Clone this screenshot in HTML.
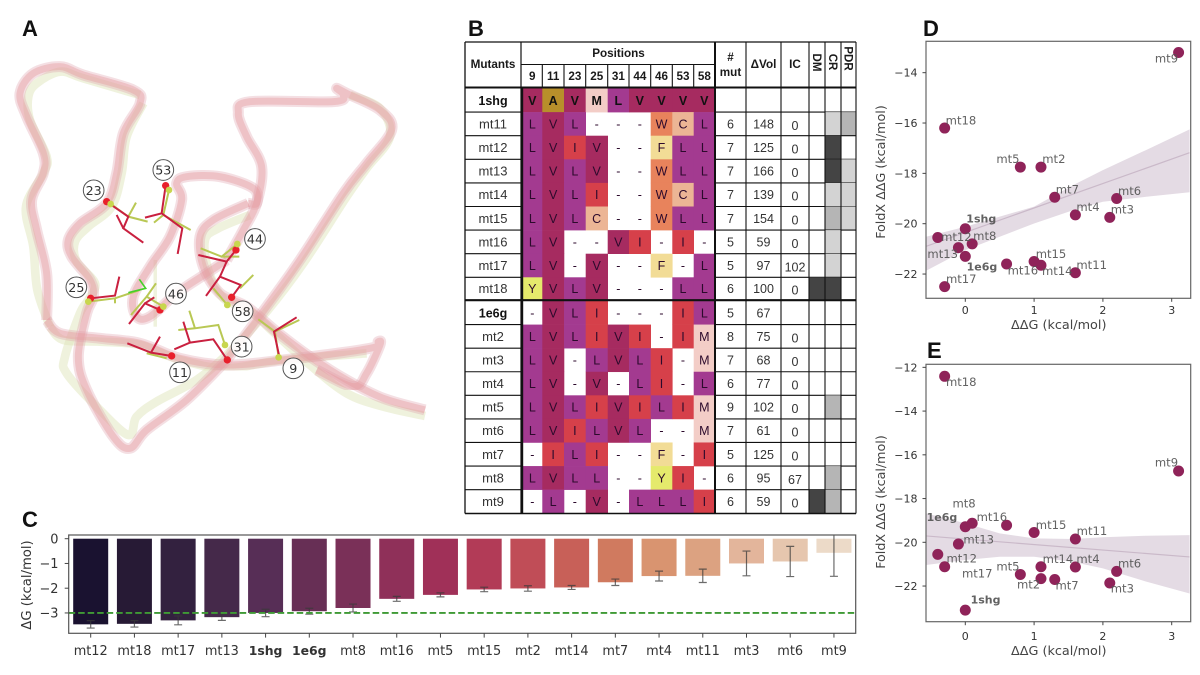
<!DOCTYPE html>
<html lang="en">
<head>
<meta charset="utf-8">
<title>Mutant stability figure</title>
<style>
html,body{margin:0;padding:0;background:#fff;width:1200px;height:675px;overflow:hidden}
svg{display:block;filter:blur(0.35px)}
.dj{font-family:"DejaVu Sans",sans-serif}
.lb{font-family:"Liberation Sans",sans-serif}
</style>
</head>
<body>
<svg id="fig" xmlns="http://www.w3.org/2000/svg" width="1200" height="675" viewBox="0 0 1200 675">
  <defs>
    <filter id="soft" x="-5%" y="-5%" width="110%" height="110%"><feGaussianBlur stdDeviation="0.8"/></filter>
    <clipPath id="clip-c"><rect x="68.7" y="535" width="787" height="98.3"/></clipPath>
    <clipPath id="clip-d"><rect x="926" y="41.3" width="264.7" height="257"/></clipPath>
    <clipPath id="clip-e"><rect x="926" y="364.3" width="264.7" height="257.4"/></clipPath>
  </defs>
  <g class="lb" font-weight="700" font-size="22" fill="#111">
    <text x="22" y="36">A</text>
    <text x="468" y="36">B</text>
    <text x="22" y="527">C</text>
    <text x="923" y="36">D</text>
    <text x="927" y="358">E</text>
  </g>
  <g id="protein"></g>
  <g id="table"></g>
  <g id="bars"></g>
  <g id="scatter-d"></g>
  <g id="scatter-e"></g>
</svg>
<script>
/* ---------- Panel B data ---------- */
const positions = ['9','11','23','25','31','44','46','53','58'];
const rowNames = ['1shg','mt11','mt12','mt13','mt14','mt15','mt16','mt17','mt18','1e6g','mt2','mt3','mt4','mt5','mt6','mt7','mt8','mt9'];
const rowResidues = ['VAVMLVVVV','LVL---WCL','LVIV--FLL','LVLV--WLL','LVLI--WCL','LVLC--WLL','LV--VI-I-','LV-V--F-L','YVLV---LL','-VLI---IL','LVLIVI-IM','LV-LVLI-M','LV-V-LI-L','LVLIVILIM','LVILVL--M','-ILI--F-I','LVLL--YI-','-L-V-LLLI'];
const rowMutCount = ['','6','7','7','7','7','5','5','6','5','8','7','6','9','7','5','6','6'];
const rowDeltaVol = ['','148','125','166','139','154','59','97','100','67','75','68','77','102','61','125','95','59'];
const rowIC = ['','0','0','0','0','0','0','102','0','','0','0','0','0','0','0','67','0'];
const rowDM = [0,0,0,0,0,0,0,0,3,0,0,0,0,0,0,0,0,3];
const rowCR = [0,1,3,3,1,2,1,1,3,0,0,0,0,2,0,0,2,2];
const rowPDR = [0,2,0,1,1,1,0,0,0,0,0,0,0,0,0,0,0,0];

/* ---------- Panel C data ---------- */
const barNames = ['mt12','mt18','mt17','mt13','1shg','1e6g','mt8','mt16','mt5','mt15','mt2','mt14','mt7','mt4','mt11','mt3','mt6','mt9'];
const barValues = [-3.46,-3.44,-3.3,-3.17,-3.0,-2.93,-2.8,-2.43,-2.27,-2.05,-2.01,-1.97,-1.76,-1.51,-1.5,-1.0,-0.92,-0.57];
const barErrors = [0.15,0.13,0.18,0.13,0.15,0.12,0.16,0.1,0.08,0.09,0.11,0.08,0.13,0.2,0.27,0.5,0.61,0.95];
const barTicks = [0,-1,-2,-3];
const referenceLine = -3;

/* ---------- Panels D and E data ---------- */
const scatterNames = ['1shg','1e6g','mt2','mt3','mt4','mt5','mt6','mt7','mt8','mt9','mt11','mt12','mt13','mt14','mt15','mt16','mt17','mt18'];
const deltaDeltaG = [0,0,1.1,2.1,1.6,0.8,2.2,1.3,0.1,3.1,1.6,-0.4,-0.1,1.1,1.0,0.6,-0.3,-0.3];
const foldxD = [-20.2,-21.3,-17.75,-19.75,-19.65,-17.75,-19,-18.95,-20.8,-13.2,-21.95,-20.55,-20.95,-21.65,-21.5,-21.6,-22.5,-16.2];
const foldxE = [-23.1,-19.29,-21.66,-21.86,-21.13,-21.47,-21.33,-21.7,-19.13,-16.74,-19.85,-20.55,-20.08,-21.12,-19.55,-19.22,-21.12,-12.41];
const xTicks = [0,1,2,3];
const yTicksD = [-14,-16,-18,-20,-22];
const yTicksE = [-12,-14,-16,-18,-20,-22];
const fitX = [-0.57,0,0.5,1,1.57,2,2.63,3.26];
const fitUpperD = [-20.52,-20.12,-19.72,-19.32,-18.46,-17.87,-17.07,-16.25];
const fitLowerD = [-21.87,-21.05,-20.52,-19.99,-19.46,-19.13,-18.93,-18.75];
const fitLineD = [-20.9,-17.18];
const fitUpperE = [-18.68,-19.13,-19.59,-19.82,-19.85,-19.77,-19.7,-19.67];
const fitLowerE = [-21.04,-20.81,-20.66,-20.66,-20.9,-21.19,-21.8,-22.34];
const fitLineE = [-19.71,-20.67];

/* label nudges around their points (layout only) */
const labelNudgeD = {'mt9':[-23.7,10],'mt18':[1,-3.7],'mt5':[-24,-4],'mt2':[1.3,-4],'mt7':[1,-4],'mt6':[1.3,-3.7],'mt4':[1,-3.7],'mt3':[1,-4],'1shg':[1,-6.3],'mt12':[3.3,3.3],'mt8':[1,-4],'mt13':[-31,10.3],'1e6g':[1.3,14],'mt16':[1,10.3],'mt15':[1.6,-3.7],'mt14':[1,10],'mt11':[1,-4],'mt17':[1.3,-3.7]};
const labelNudgeE = {'mt18':[1.3,9.7],'mt9':[-23.7,-4.3],'mt8':[-19.7,-15.7],'1e6g':[-38.7,-6],'mt16':[-30,-4.3],'mt15':[1.7,-3.7],'mt11':[1.3,-4],'mt13':[5,-0.3],'mt12':[8.7,8.3],'mt17':[17.3,10.7],'mt5':[-24,-4],'mt14':[1.7,-3.7],'mt4':[1,-4],'mt6':[1.3,-4],'mt3':[1,9.7],'mt2':[-24,9.7],'mt7':[0.7,10],'1shg':[5.3,-6.7]};

const residueColor = {V:'#a62b60',A:'#b88f2b',M:'#f3cdc7',L:'#a33a90',W:'#e8835c',C:'#ecb595',I:'#d6404a',F:'#f2dc96',Y:'#e5ea6c'};
const shade = ['none','#d3d3d3','#b5b5b5','#444444'];
const barPalette = ['#1a1230','#271a35','#33213f','#45294a','#572e56','#672f55','#7a3058','#8f3059','#a03058','#b23b57','#c04d57','#c86058','#d07a5f','#d99470','#dca281','#e3b59b','#e6c6ae','#ecdac8'];

const NS = 'http://www.w3.org/2000/svg';
function make(tag, attrs, parent, text){
  const el = document.createElementNS(NS, tag);
  for (const k in attrs) el.setAttribute(k, attrs[k]);
  if (text !== undefined) el.textContent = text;
  parent.appendChild(el);
  return el;
}
const minus = v => String(v).replace('-', '\u2212');

/* ---------- Panel A: protein ---------- */
(function(){
  const root = document.getElementById('protein');
  const g = make('g', {transform:'translate(0,40) scale(0.3333)'}, root);
  const pinkRibbons = [
    [[1275,1110],[1150,1075],[1040,1020],[930,950],[830,875],[740,800],[660,760],[610,680],[600,590],[640,540],[745,490]],
    [[745,490],[770,490],[760,445],[660,410],[560,410],[530,430],[545,480],[510,590],[450,680],[400,770],[410,830],[450,830],[530,760],[620,700],[680,660]],
    [[680,660],[730,570],[770,490],[785,380],[740,290],[715,220],[750,185],[1000,185],[1030,165],[1010,145],[1040,160],[1140,210],[1175,270],[1100,370],[1030,460],[900,660],[800,800],[680,960]],
    [[680,960],[560,1080],[440,1170],[390,1225],[340,1190],[260,1050],[235,950],[260,820],[280,770],[270,720],[215,650],[205,600],[240,550],[320,490],[350,400],[370,280],[420,190],[400,150],[250,105],[180,80],[100,100],[60,160],[80,230],[130,340],[130,400],[95,480],[110,570],[140,700],[140,840]],
    [[140,840],[180,880],[300,895],[420,910],[540,955],[680,975],[850,960],[1110,925],[1135,905],[1140,915],[1100,1000],[1060,1040],[950,990]]
  ];
  const greenRibbons = [
    [[1275,1128],[1150,1100],[1040,1060],[930,975],[830,885],[745,810],[670,775],[625,690],[615,600],[655,565],[750,525]],
    [[470,660],[465,770],[462,860]],
    [[1050,165],[1140,205],[1170,290],[1100,385],[1040,470],[910,670],[800,815],[690,935],[590,1020],[470,1085],[410,1130],[385,1185],[290,1100],[200,1000],[195,950],[240,820],[265,780],[285,730],[230,665],[225,605],[265,560],[335,500],[365,400],[380,290],[430,190]],
    [[420,165],[250,115],[180,95],[110,130],[85,170],[90,240],[140,350],[130,400],[78,500],[100,620],[112,750],[150,860]],
    [[150,860],[190,900],[300,905],[420,915],[540,960],[680,985],[850,960],[1100,940]]
  ];
  function smooth(p){
    let d = 'M' + p[0][0] + ' ' + p[0][1];
    for (let i = 0; i < p.length - 1; i++){
      const a = p[Math.max(0,i-1)], b = p[i], c = p[i+1], e = p[Math.min(p.length-1,i+2)];
      d += ' C' + (b[0]+(c[0]-a[0])/6) + ' ' + (b[1]+(c[1]-a[1])/6) + ' ' + (c[0]-(e[0]-b[0])/6) + ' ' + (c[1]-(e[1]-b[1])/6) + ' ' + c[0] + ' ' + c[1];
    }
    return d;
  }
  greenRibbons.forEach(p => {
    const el = make('path', {d:smooth(p), fill:'none', stroke:'#dfe5bb', 'stroke-opacity':0.5, 'stroke-width':26, 'stroke-linecap':'butt', filter:'url(#soft)'}, g);
    
    
  });
  pinkRibbons.forEach(p => {
    const d = smooth(p);
    const outer = make('path', {d:d, fill:'none', stroke:'#dc9aa8', 'stroke-opacity':0.32, 'stroke-width':33, 'stroke-linecap':'butt', filter:'url(#soft)'}, g);
    
    
    const inner = make('path', {d:d, fill:'none', stroke:'#e69aa0', 'stroke-opacity':0.42, 'stroke-width':21, 'stroke-linecap':'butt', filter:'url(#soft)'}, g);
    
    
  });
  const greenSticks = [
    [[332,492],[385,530],[443,545]],[[385,530],[408,488]],
    [[507,450],[490,525],[462,548]],[[490,525],[572,570]],
    [[712,612],[665,650],[602,625]],[[665,650],[718,650]],
    [[265,785],[345,775],[420,750]],[[345,775],[345,790]],
    [[490,800],[440,770],[393,825]],[[440,770],[468,730]],
    [[682,795],[640,745]],[[720,745],[760,705]],
    [[675,915],[655,855],[585,865],[535,870]],[[585,865],[568,812]],
    [[500,955],[440,940]],
    [[836,952],[825,875],[898,840]],[[825,875],[775,838]]
  ];
  const redSticks = [
    [[320,485],[385,530],[370,565],[430,608]],[[370,565],[350,525]],
    [[497,437],[485,520],[435,533]],[[485,520],[547,565],[533,642]],
    [[708,630],[680,665],[595,645]],[[680,665],[660,710],[618,768]],[[660,710],[722,735],[695,772]],
    [[272,775],[345,767],[358,710]],
    [[480,810],[435,790],[387,852]],[[435,790],[463,772]],
    [[682,960],[640,898],[570,908],[523,928]],[[570,908],[550,845]],
    [[515,948],[453,938],[382,910]],[[453,938],[480,890]],
    [[838,950],[822,875],[890,832]]
  ];
  const limeSticks = [[[385,758],[437,745],[418,718]]];
  greenSticks.forEach(p => {
    const el = make('polyline', {points:p.join(' '), fill:'none', stroke:'#b9c854', 'stroke-width':6}, g);
    
    
  });
  limeSticks.forEach(p => {
    const el = make('polyline', {points:p.join(' '), fill:'none', stroke:'#45cf2a', 'stroke-width':5}, g);
    
    
  });
  redSticks.forEach(p => {
    const el = make('polyline', {points:p.join(' '), fill:'none', stroke:'#c9203f', 'stroke-width':6}, g);
    
    
  });
  const redBalls = [[320,485],[497,437],[708,630],[272,775],[480,810],[682,960],[515,948],[695,772]];
  const greenBalls = [[332,492],[507,450],[712,612],[265,785],[490,800],[675,915],[836,952],[682,795]];
  redBalls.forEach(p => {
    const el = make('circle', {cx:p[0], cy:p[1], r:11, fill:'#e8202c'}, g);
    
    
  });
  greenBalls.forEach(p => {
    const el = make('circle', {cx:p[0], cy:p[1], r:10, fill:'#c8d64e'}, g);
    
    
  });
  const tags = [['23',281,451],['53',490,390],['44',765,597],['25',229,742],['46',528,761],['58',728,814],['31',725,920],['11',540,997],['9',880,985]];
  tags.forEach(t => {
    const c = make('circle', {cx:t[1], cy:t[2], r:31, fill:'#fff', 'fill-opacity':0.9, stroke:'#555', 'stroke-width':3}, g);
    
    
    const s = make('text', {x:t[1], y:t[2]+14, 'text-anchor':'middle', class:'dj', 'font-size':38, fill:'#333'}, g, t[0]);
    
    
  });
})();

/* ---------- Panel B: table ---------- */
(function(){
  const root = document.getElementById('table');
  const colX = [522.3,542.3,564,585.7,607.7,629,650.7,672.3,693.7,715];
  const rightX = [715,746,781,809,825,841,856];
  const rowH = 23.6;
  const rowTop = i => i < 9 ? 88.5 + i*rowH : 301 + (i-9)*23.58;
  const rowHeight = i => i === 8 ? 22 : (i < 9 ? rowH : 23.58);
  const line = (x1,y1,x2,y2,w,name) => {
    const el = make('line', {x1:x1,y1:y1,x2:x2,y2:y2,stroke:'#111','stroke-width':w}, root);
    
    
  };
  rowNames.forEach((name,i) => {
    const y = rowTop(i), h = rowHeight(i), bold = (name==='1shg'||name==='1e6g');
    [...rowResidues[i]].forEach((ch,j) => {
      if (ch !== '-'){
        const cell = make('rect', {x:colX[j], y:y, width:colX[j+1]-colX[j]+0.3, height:h+0.3, fill:residueColor[ch]}, root);
        
        
      }
      const t = make('text', {x:(colX[j]+colX[j+1])/2, y:y+h/2+4.5, 'text-anchor':'middle', class:'lb', 'font-size':12.5, 'font-weight':i===0?700:400, fill:i===0?'#111':'#2c0a2c'}, root, ch);
      
      
    });
    const gray = [rowDM[i],rowCR[i],rowPDR[i]];
    gray.forEach((g,k) => {
      if (g){
        const r = make('rect', {x:rightX[4+k-1], y:y, width:rightX[4+k]-rightX[4+k-1], height:h, fill:shade[g]}, root);
        
        
      }
    });
    const n = make('text', {x:493, y:y+h/2+4.5, 'text-anchor':'middle', class:'lb', 'font-size':bold?12.5:13, 'font-weight':bold?700:400, fill:bold?'#111':'#333'}, root, name);
    
    
    const a = make('text', {x:730.5, y:y+h/2+4.5, 'text-anchor':'middle', class:'lb', 'font-size':12.5, fill:'#333'}, root, rowMutCount[i]);
    
    
    const b = make('text', {x:763.5, y:y+h/2+4.5, 'text-anchor':'middle', class:'lb', 'font-size':12.5, fill:'#333'}, root, rowDeltaVol[i]);
    
    
    const c = make('text', {x:795, y:y+h/2+6, 'text-anchor':'middle', class:'lb', 'font-size':12.5, fill:'#333'}, root, rowIC[i]);
    
    
    const yb = y + h;
    if (i !== 8 && i !== 17){
      line(465,yb,521,yb,1.1,'row-rule');
      line(715,yb,856,yb,1.1,'row-rule');
    }
  });
  /* header */
  const head = (x,y,s,name,size) => {
    const t = make('text', {x:x,y:y,'text-anchor':'middle',class:'lb','font-size':size||11.7,'font-weight':700,fill:'#1a1a1a'}, root, s);
    
    
  };
  head(493,68,'Mutants','header-mutants');
  head(618.5,57,'Positions','header-positions');
  head(730.5,61,'#','header-mut-count-hash');
  head(730.5,76,'mut','header-mut-count');
  head(763.5,68,'\u0394Vol','header-delta-vol');
  head(795,68,'IC','header-ic');
  positions.forEach((p,j) => head((colX[j]+colX[j+1])/2,80,p,'header-position-' + p));
  [['DM',817,62.5],['CR',833,62],['PDR',848.5,58.5]].forEach(d => {
    const t = make('text', {x:d[1]-4,y:d[2],transform:'rotate(90 '+(d[1]-4)+' '+d[2]+')','text-anchor':'middle',class:'lb','font-size':11.5,'font-weight':700,fill:'#1a1a1a'}, root, d[0]);
    
    
  });
  /* rules */
  line(465,42,856,42,1.3,'table-top-rule');
  line(521,64.5,715,64.5,1.1,'positions-subheader-rule');
  line(465,87.5,856,87.5,2,'header-bottom-rule');
  line(465,300.2,856,300.2,2.2,'group-divider-rule');
  line(465,513.5,856,513.5,1.4,'table-bottom-rule');
  line(465,42,465,513.5,1.3,'table-left-rule');
  line(521,42,521,513.5,1.2,'mutants-column-rule');
  line(522.3,88,522.3,513.5,1.8,'positions-block-left-rule');
  line(715,42,715,513.5,2,'positions-block-right-rule');
  colX.slice(1,-1).forEach(x => line(x,64.5,x,87,1.1,'position-column-rule'));
  rightX.slice(1).forEach(x => line(x,42,x,513.5,1.1,'score-column-rule'));
})();

/* ---------- Panel C: bars ---------- */
(function(){
  const root = document.getElementById('bars');
  const bx = i => 90.7 + 43.72*i;
  const by = v => 538.7 - v*24.75;
  const marks = make('g', {'clip-path':'url(#clip-c)'}, root);
  barNames.forEach((name,i) => {
    const bar = make('rect', {x:bx(i)-17.5, y:by(0), width:35, height:by(barValues[i])-by(0), fill:barPalette[i]}, marks);
    
    
  });
  barNames.forEach((name,i) => {
    const top = by(barValues[i]+barErrors[i]), bot = by(barValues[i]-barErrors[i]);
    const e = make('path', {d:'M'+bx(i)+' '+top+'V'+bot+'M'+(bx(i)-4)+' '+top+'H'+(bx(i)+4)+'M'+(bx(i)-4)+' '+bot+'H'+(bx(i)+4), fill:'none', stroke:'#3a3a3a', 'stroke-opacity':0.75, 'stroke-width':1.2}, marks);
    
    
  });
  const ref = make('line', {x1:68.7, x2:855.7, y1:by(referenceLine), y2:by(referenceLine), stroke:'#3f9a35', 'stroke-width':1.8, 'stroke-dasharray':'6.5 3'}, root);
  
  
  const frame = make('rect', {x:68.7, y:535, width:787, height:98.3, fill:'none', stroke:'#555', 'stroke-width':1.2}, root);
  
  
  barTicks.forEach(v => {
    const t = make('line', {x1:64.7, x2:68.7, y1:by(v), y2:by(v), stroke:'#444', 'stroke-width':1}, root);
    
    
    const s = make('text', {x:58.5, y:by(v)+4.6, 'text-anchor':'end', class:'dj', 'font-size':12.9, fill:'#333'}, root, minus(v));
    
    
  });
  barNames.forEach((name,i) => {
    const t = make('line', {x1:bx(i), x2:bx(i), y1:633.3, y2:637.6, stroke:'#444', 'stroke-width':1}, root);
    
    
    const bold = (name==='1shg'||name==='1e6g');
    const s = make('text', {x:bx(i), y:655, 'text-anchor':'middle', class:'dj', 'font-size':bold?12.4:12.9, 'font-weight':bold?700:400, fill:'#333'}, root, name);
    
    
  });
  const yl = make('text', {x:31, y:585, transform:'rotate(-90 31 585)', 'text-anchor':'middle', class:'dj', 'font-size':13.2, fill:'#333'}, root, '\u0394G (kcal/mol)');
  
  
})();

/* ---------- Panels D / E: scatter ---------- */
function drawScatter(root, clip, frameTop, frameH, yZero20, yPerUnit, yValues, yTicks, upper, lower, fitLine, nudge, yLabelCenter, xTickBase, xTitleBase){
  const sx = v => 965.3 + 68.8*v;
  const sy = v => yZero20 - (v+20)*yPerUnit;
  const clipG = make('g', {'clip-path':'url(#'+clip+')'}, root);
  const pts = fitX.map((x,i) => sx(x)+','+sy(upper[i])).concat(fitX.map((x,i) => sx(x)+','+sy(lower[i])).reverse());
  const band = make('polygon', {points:pts.join(' '), fill:'#7a4a78', 'fill-opacity':0.2}, clipG);
  
  
  const fit = make('line', {x1:sx(fitX[0]), y1:sy(fitLine[0]), x2:sx(fitX[fitX.length-1]), y2:sy(fitLine[1]), stroke:'#9a7a98', 'stroke-opacity':0.35, 'stroke-width':1.2}, clipG);
  
  
  scatterNames.forEach((name,i) => {
    const c = make('circle', {cx:sx(deltaDeltaG[i]), cy:sy(yValues[i]), r:5.5, fill:'#8f2359'}, root);
    
    
  });
  scatterNames.forEach((name,i) => {
    const n = nudge[name], bold = (name==='1shg'||name==='1e6g');
    const s = make('text', {x:sx(deltaDeltaG[i])+n[0], y:sy(yValues[i])+n[1], class:'dj', 'font-size':bold?11:11.6, 'font-weight':bold?700:400, fill:'#555', 'fill-opacity':0.92}, root, name);
    
    
  });
  const frame = make('rect', {x:926, y:frameTop, width:264.7, height:frameH, fill:'none', stroke:'#666', 'stroke-width':1.2}, root);
  
  
  xTicks.forEach(v => {
    const t = make('line', {x1:sx(v), x2:sx(v), y1:frameTop+frameH, y2:frameTop+frameH+3.5, stroke:'#444', 'stroke-width':1}, root);
    
    
    const s = make('text', {x:sx(v), y:xTickBase, 'text-anchor':'middle', class:'dj', 'font-size':11, fill:'#333'}, root, String(v));
    
    
  });
  yTicks.forEach(v => {
    const t = make('line', {x1:922.5, x2:926, y1:sy(v), y2:sy(v), stroke:'#444', 'stroke-width':1}, root);
    
    
    const s = make('text', {x:917.5, y:sy(v)+4, 'text-anchor':'end', class:'dj', 'font-size':11, fill:'#333'}, root, minus(v));
    
    
  });
  const xt = make('text', {x:1058.7, y:xTitleBase, 'text-anchor':'middle', class:'dj', 'font-size':12.8, fill:'#444'}, root, '\u0394\u0394G (kcal/mol)');
  
  
  const yt = make('text', {x:885, y:yLabelCenter, transform:'rotate(-90 885 '+yLabelCenter+')', 'text-anchor':'middle', class:'dj', 'font-size':12.7, fill:'#444'}, root, 'FoldX \u0394\u0394G (kcal/mol)');
  
  
}
drawScatter(document.getElementById('scatter-d'),'clip-d',41.3,257,223.7,25.17,foldxD,yTicksD,fitUpperD,fitLowerD,fitLineD,labelNudgeD,172,314,329);
drawScatter(document.getElementById('scatter-e'),'clip-e',364.3,257.4,542.3,21.87,foldxE,yTicksE,fitUpperE,fitLowerE,fitLineE,labelNudgeE,502,640,655);
</script>
</body>
</html>
